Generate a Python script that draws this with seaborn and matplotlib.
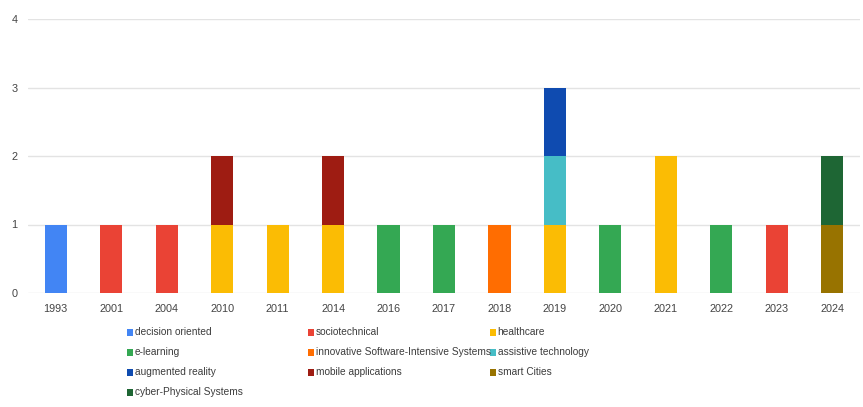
import numpy as np
import pandas as pd
import seaborn as sns
import matplotlib.pyplot as plt
from matplotlib.patches import Rectangle

years = ["1993", "2001", "2004", "2010", "2011", "2014", "2016", "2017",
         "2018", "2019", "2020", "2021", "2022", "2023", "2024"]

series = ["decision oriented", "sociotechnical", "healthcare", "e-learning",
          "innovative Software-Intensive Systems", "assistive technology",
          "augmented reality", "mobile applications", "smart Cities",
          "cyber-Physical Systems"]

colors = ["#4285F4", "#EA4335", "#FBBC04", "#34A853", "#FF6D01", "#46BDC6",
          "#0F4BB0", "#9E1C12", "#987300", "#1E6634"]

# counts per year, one list per series
decision_oriented = [1, 0, 0, 0, 0, 0, 0, 0, 0, 0, 0, 0, 0, 0, 0]
sociotechnical    = [0, 1, 1, 0, 0, 0, 0, 0, 0, 0, 0, 0, 0, 1, 0]
healthcare        = [0, 0, 0, 1, 1, 1, 0, 0, 0, 1, 0, 2, 0, 0, 0]
e_learning        = [0, 0, 0, 0, 0, 0, 1, 1, 0, 0, 1, 0, 1, 0, 0]
innovative_sis    = [0, 0, 0, 0, 0, 0, 0, 0, 1, 0, 0, 0, 0, 0, 0]
assistive_tech    = [0, 0, 0, 0, 0, 0, 0, 0, 0, 1, 0, 0, 0, 0, 0]
augmented_reality = [0, 0, 0, 0, 0, 0, 0, 0, 0, 1, 0, 0, 0, 0, 0]
mobile_apps       = [0, 0, 0, 1, 0, 1, 0, 0, 0, 0, 0, 0, 0, 0, 0]
smart_cities      = [0, 0, 0, 0, 0, 0, 0, 0, 0, 0, 0, 0, 0, 0, 1]
cyber_physical    = [0, 0, 0, 0, 0, 0, 0, 0, 0, 0, 0, 0, 0, 0, 1]

values = [decision_oriented, sociotechnical, healthcare, e_learning,
          innovative_sis, assistive_tech, augmented_reality, mobile_apps,
          smart_cities, cyber_physical]

sns.set_theme(style="white")
plt.rcParams['font.family'] = ['Liberation Sans', 'DejaVu Sans']

fig = plt.figure(figsize=(8.63, 4.07), dpi=100)
ax = fig.add_axes([28 / 863, 1 - 293 / 407, 832 / 863, 274 / 407])

# stacked bars: draw cumulative totals from the top series down
df = pd.DataFrame(np.array(values).T, columns=series)
cum = df[series].cumsum(axis=1)
for name, col in reversed(list(zip(series, colors))):
    sns.barplot(x=years, y=cum[name].values, color=col, width=0.4,
                linewidth=0, saturation=1, ax=ax, zorder=3)

ax.set_ylim(0, 4)
ax.set_yticks(range(5))
ax.set_xlim(-0.5, len(years) - 0.5)
ax.grid(axis="y", color="#e3e3e3", linewidth=1, zorder=0)
ax.set_axisbelow(True)
for s in ax.spines.values():
    s.set_visible(False)
ax.tick_params(axis="both", length=0, labelsize=7.8, colors="#444444")
ax.tick_params(axis="x", pad=8)
ax.tick_params(axis="y", pad=12)
for lbl in ax.get_yticklabels():
    lbl.set_horizontalalignment("left")
ax.set_xlabel("")
ax.set_ylabel("")

# legend in 3 columns, row-major like the original
col_x = [127, 308, 490]
row_y = [332, 352, 372, 392]
for i, (name, col) in enumerate(zip(series, colors)):
    r, c = divmod(i, 3)
    x0 = col_x[c] / 863
    y0 = 1 - row_y[r] / 407
    fig.add_artist(Rectangle((x0, y0 - 3.5 / 407), 6 / 863, 7 / 407,
                             transform=fig.transFigure, color=col, linewidth=0))
    fig.text(x0 + 7.5 / 863, y0, name, fontsize=7.3, color="#3c3c3c",
             va="center", ha="left")

fig.savefig("out.png", dpi=100, facecolor="white")
